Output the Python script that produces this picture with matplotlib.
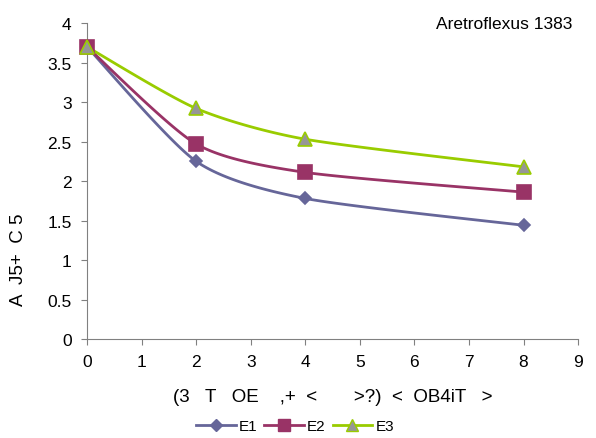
import numpy as np
import matplotlib
matplotlib.use("Agg")
import matplotlib.pyplot as plt
from matplotlib.lines import Line2D

plt.rcParams['font.family'] = ['Liberation Sans', 'DejaVu Sans']

# sampling points and the three treatments
days = [0, 2, 4, 8]
e1 = [3.70, 2.25, 1.78, 1.44]
e2 = [3.70, 2.47, 2.11, 1.86]
e3 = [3.70, 2.92, 2.53, 2.18]
names = ['E1', 'E2', 'E3']

title = 'Aretroflexus 1383'
xlab = '(3   T   OE    ,+  <       >?)  <  OB4iT   >'
ylab = 'A  J5+  C 5'


def smooth(xs, ys, k=0.12, n=40):
    # bezier through the points, tangents from the neighbours
    p = np.column_stack([xs, ys]).astype(float)
    pts = np.vstack([p[0], p, p[-1]])
    out = []
    for i in range(1, len(pts) - 2):
        p0, p1, p2, p3 = pts[i - 1], pts[i], pts[i + 1], pts[i + 2]
        c1 = p1 + (p2 - p0) * k
        c2 = p2 - (p3 - p1) * k
        t = np.linspace(0, 1, n)[:, None]
        seg = ((1 - t) ** 3) * p1 + 3 * ((1 - t) ** 2) * t * c1 + 3 * (1 - t) * t ** 2 * c2 + t ** 3 * p2
        out.append(seg if i == 1 else seg[1:])
    c = np.vstack(out)
    return c[:, 0], c[:, 1]


fig = plt.figure(figsize=(5.96, 4.39), dpi=100)
ax = fig.add_axes([0.146, 0.2255, 0.824, 0.7195])

# colour, marker, plot size, legend size
styles = [
    dict(color='#666699', marker='D', mfc='#666699', mec='#666699', ms=6.6, lms=6),
    dict(color='#993366', marker='s', mfc='#993366', mec='#993366', ms=9.5, lms=8.5),
    dict(color='#99CC00', marker='^', mfc='#969696', mec='#99CC00', ms=10.5, lms=9),
]

for ys, st in zip([e1, e2, e3], styles):
    sx, sy = smooth(days, ys)
    ax.plot(sx, sy, color=st['color'], lw=2, zorder=2)
    ax.plot(days, ys, ls='none', marker=st['marker'], ms=st['ms'],
            mfc=st['mfc'], mec=st['mec'], mew=1.2, zorder=3, clip_on=False)

ax.set_xlim(0, 9)
ax.set_ylim(0, 4)
ax.set_xticks(range(0, 10))
ax.set_yticks(np.arange(0, 4.01, 0.5))
ax.set_yticklabels(['0', '0.5', '1', '1.5', '2', '2.5', '3', '3.5', '4'])
for s in ['top', 'right']:
    ax.spines[s].set_visible(False)
for s in ['left', 'bottom']:
    ax.spines[s].set_color('#808080')
ax.tick_params(direction='out', length=4, color='#808080', labelsize=12.5, pad=7)

ax.text(0.988, 1.0, title, transform=ax.transAxes, ha='right', va='center', fontsize=12.5)
ax.set_xlabel(xlab, fontsize=13.5, va='center')
ax.xaxis.set_label_coords(0.5, -0.1835)
ax.set_ylabel(ylab, fontsize=13.5, va='center')
ax.yaxis.set_label_coords(-0.1405, 0.253)

handles = [Line2D([], [], color=st['color'], lw=2, marker=st['marker'],
                  ms=st['lms'], mfc=st['mfc'], mec=st['mec'])
           for st in styles]
fig.legend(handles, names, loc='center', bbox_to_anchor=(0.495, 0.0273), ncol=3,
           frameon=False, fontsize=11, handlelength=2.6, handletextpad=0.2,
           columnspacing=0.45, borderaxespad=0)

fig.savefig('out.png', dpi=100)
